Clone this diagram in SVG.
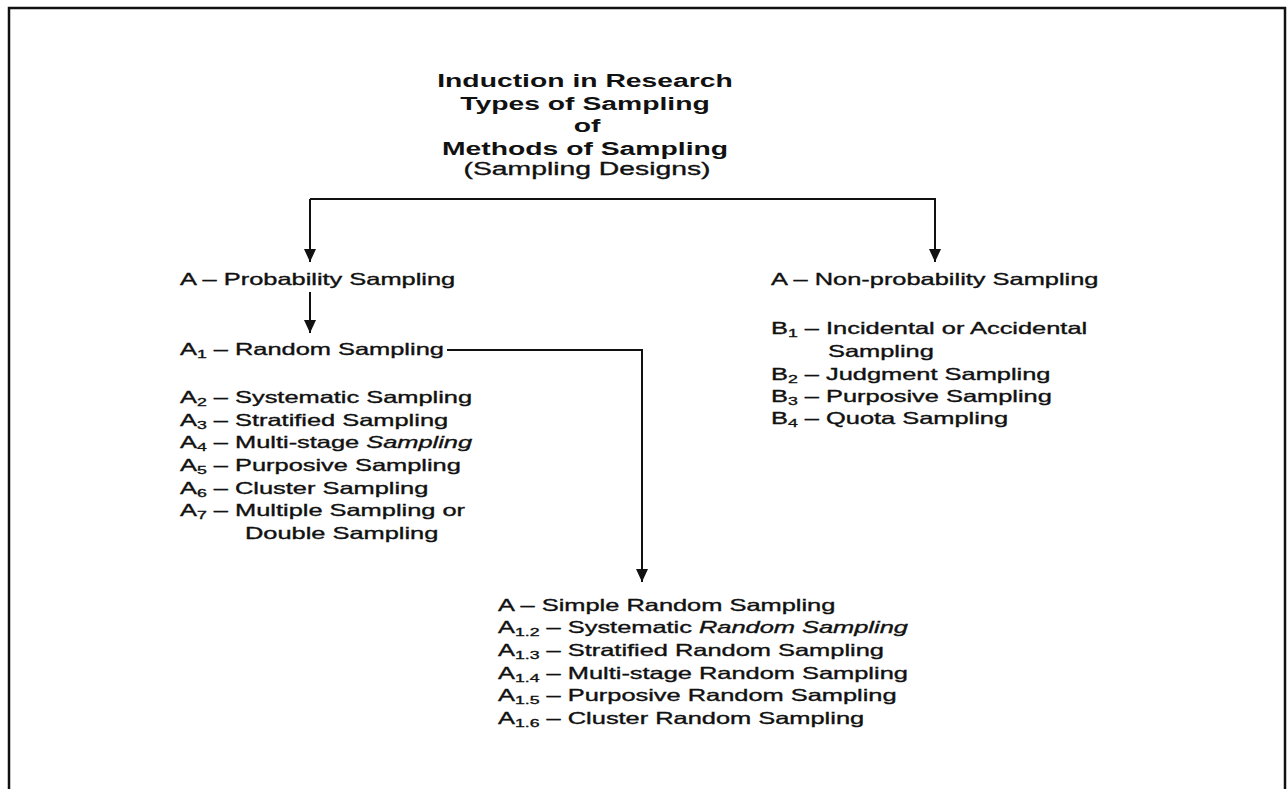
<svg xmlns="http://www.w3.org/2000/svg" width="1287" height="789" viewBox="0 0 1287 789">
  <style>
    text { font-family: "Liberation Sans", Arial, sans-serif; fill: #111; }
    .title { font-size: 18.5px; font-weight: bold; text-anchor: middle; }
    .subtitle { font-size: 18.5px; text-anchor: middle; stroke: #111; stroke-width: 0.35; }
    .item { font-size: 16.5px; stroke: #111; stroke-width: 0.35; }
    .sub { font-size: 11.5px; }
    .conn { fill: none; stroke: #111; stroke-width: 2; }
    .frame { fill: none; stroke: #111; stroke-width: 2.5; }
  </style>
  <defs>
    <marker id="down" viewBox="0 0 12 13" refX="6" refY="13" markerWidth="12" markerHeight="13" markerUnits="userSpaceOnUse" orient="0">
      <path d="M0,0 L12,0 L6,13 Z" fill="#111"/>
    </marker>
  </defs>

  <rect width="1287" height="789" fill="#fff"/>

  <!-- outer frame, open at the bottom edge -->
  <path class="frame" d="M9,792 V8 H1285 V792"/>

  <!-- heading -->
  <g id="heading">
    <text class="title" transform="translate(585 87) scale(1.53 1)">Induction in Research</text>
    <text class="title" transform="translate(585 110) scale(1.53 1)">Types of Sampling</text>
    <text class="title" transform="translate(587 132) scale(1.53 1)">of</text>
    <text class="title" transform="translate(585 155) scale(1.53 1)">Methods of Sampling</text>
    <text class="subtitle" transform="translate(587 175) scale(1.53 1)">(Sampling Designs)</text>
  </g>

  <!-- connectors -->
  <g id="connectors">
    <path class="conn" d="M310,199 H935 V262" marker-end="url(#down)"/>
    <path class="conn" d="M310,199 V262" marker-end="url(#down)"/>
    <path class="conn" d="M310,292 V333" marker-end="url(#down)"/>
    <path class="conn" d="M447,350 H642 V582" marker-end="url(#down)"/>
  </g>

  <!-- probability branch -->
  <g id="probability">
    <text class="item" transform="translate(180 285) scale(1.54 1)">A – Probability Sampling</text>
  </g>

  <g id="random-sampling">
    <text class="item" transform="translate(180 355) scale(1.54 1)">A<tspan class="sub" dy="3">1</tspan><tspan dy="-3"> – Random Sampling</tspan></text>
  </g>

  <g id="probability-methods">
    <text class="item" transform="translate(180 403) scale(1.54 1)">A<tspan class="sub" dy="3">2</tspan><tspan dy="-3"> – Systematic Sampling</tspan></text>
    <text class="item" transform="translate(180 426) scale(1.54 1)">A<tspan class="sub" dy="3">3</tspan><tspan dy="-3"> – Stratified Sampling</tspan></text>
    <text class="item" transform="translate(180 448) scale(1.54 1)">A<tspan class="sub" dy="3">4</tspan><tspan dy="-3"> – Multi-stage </tspan><tspan font-style="italic">Sampling</tspan></text>
    <text class="item" transform="translate(180 471) scale(1.54 1)">A<tspan class="sub" dy="3">5</tspan><tspan dy="-3"> – Purposive Sampling</tspan></text>
    <text class="item" transform="translate(180 494) scale(1.54 1)">A<tspan class="sub" dy="3">6</tspan><tspan dy="-3"> – Cluster Sampling</tspan></text>
    <text class="item" transform="translate(180 516) scale(1.54 1)">A<tspan class="sub" dy="3">7</tspan><tspan dy="-3"> – Multiple Sampling or</tspan></text>
    <text class="item" transform="translate(245 539) scale(1.54 1)">Double Sampling</text>
  </g>

  <!-- non-probability branch -->
  <g id="non-probability">
    <text class="item" transform="translate(771 285) scale(1.54 1)">A – Non-probability Sampling</text>
  </g>

  <g id="non-probability-methods">
    <text class="item" transform="translate(771 334) scale(1.54 1)">B<tspan class="sub" dy="3">1</tspan><tspan dy="-3"> – Incidental or Accidental</tspan></text>
    <text class="item" transform="translate(828 357) scale(1.54 1)">Sampling</text>
    <text class="item" transform="translate(771 380) scale(1.54 1)">B<tspan class="sub" dy="3">2</tspan><tspan dy="-3"> – Judgment Sampling</tspan></text>
    <text class="item" transform="translate(771 402) scale(1.54 1)">B<tspan class="sub" dy="3">3</tspan><tspan dy="-3"> – Purposive Sampling</tspan></text>
    <text class="item" transform="translate(771 424) scale(1.54 1)">B<tspan class="sub" dy="3">4</tspan><tspan dy="-3"> – Quota Sampling</tspan></text>
  </g>

  <!-- random sampling variants -->
  <g id="random-methods">
    <text class="item" transform="translate(498 611) scale(1.54 1)">A – Simple Random Sampling</text>
    <text class="item" transform="translate(498 633) scale(1.54 1)">A<tspan class="sub" dy="3">1.2</tspan><tspan dy="-3"> – Systematic </tspan><tspan font-style="italic">Random Sampling</tspan></text>
    <text class="item" transform="translate(498 656) scale(1.54 1)">A<tspan class="sub" dy="3">1.3</tspan><tspan dy="-3"> – Stratified Random Sampling</tspan></text>
    <text class="item" transform="translate(498 679) scale(1.54 1)">A<tspan class="sub" dy="3">1.4</tspan><tspan dy="-3"> – Multi-stage Random Sampling</tspan></text>
    <text class="item" transform="translate(498 701) scale(1.54 1)">A<tspan class="sub" dy="3">1.5</tspan><tspan dy="-3"> – Purposive Random Sampling</tspan></text>
    <text class="item" transform="translate(498 724) scale(1.54 1)">A<tspan class="sub" dy="3">1.6</tspan><tspan dy="-3"> – Cluster Random Sampling</tspan></text>
  </g>
</svg>
